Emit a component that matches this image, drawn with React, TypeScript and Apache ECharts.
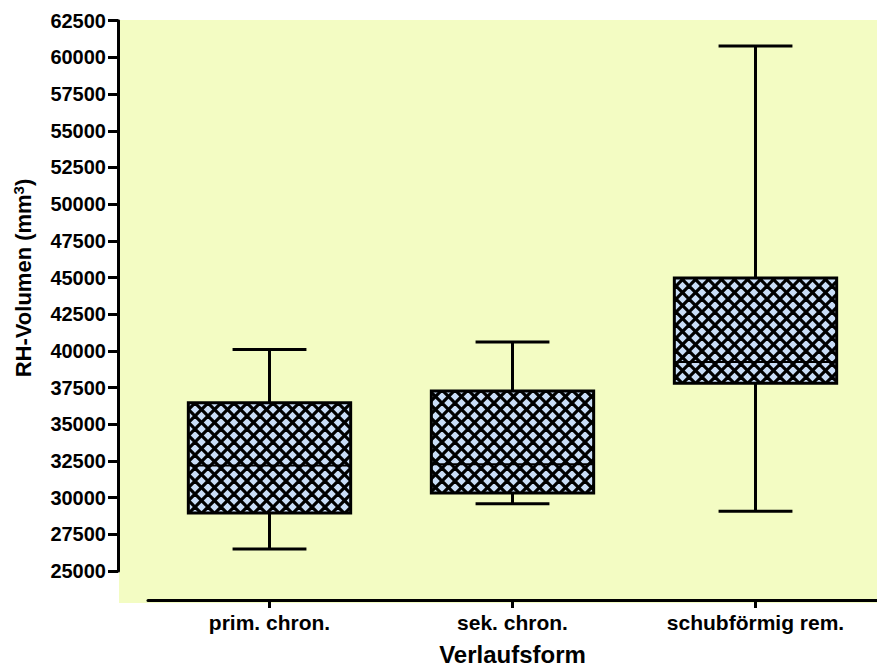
import React, { useEffect, useRef } from "react";
import * as echarts from "echarts";

const categories = ["prim. chron.", "sek. chron.", "schubförmig rem."];
const whiskerLow = [26500, 29590, 29070];
const quartile1 = [28950, 30310, 37800];
const medians = [32190, 32280, 39250];
const quartile3 = [36470, 37260, 44970];
const whiskerHigh = [40090, 40610, 60780];
const yMin = 25000;
const yMax = 62500;
const yStep = 2500;

const FONT = "Arial, 'Liberation Sans', Helvetica, sans-serif";

function makeHatch(): HTMLCanvasElement {
  const P = 13;
  const c = document.createElement("canvas");
  c.width = P;
  c.height = P;
  const ctx = c.getContext("2d")!;
  ctx.fillStyle = "#C9DDF7";
  ctx.fillRect(0, 0, P, P);
  ctx.strokeStyle = "#000";
  ctx.lineWidth = 3.2;
  const seg = (x1: number, y1: number, x2: number, y2: number) => {
    ctx.beginPath();
    ctx.moveTo(x1, y1);
    ctx.lineTo(x2, y2);
    ctx.stroke();
  };
  for (const o of [-P, 0, P]) {
    seg(-2 + o, -2, P + 2 + o, P + 2);
    seg(P + 2 + o, -2, -2 + o, P + 2);
  }
  return c;
}

export default function App() {
  const ref = useRef<HTMLDivElement>(null);
  useEffect(() => {
    document.body.style.margin = "0";
    const chart = echarts.init(ref.current!, null, { renderer: "svg" });
    const hatch = makeHatch();
    const data = categories.map((_, i) => [
      i,
      whiskerLow[i],
      quartile1[i],
      medians[i],
      quartile3[i],
      whiskerHigh[i],
    ]);
    chart.setOption({
      animation: false,
      backgroundColor: "#ffffff",
      grid: { left: 148, width: 741, top: 20.7, bottom: 97.7, containLabel: false },
      graphic: [
        {
          type: "rect",
          z: -100,
          silent: true,
          shape: { x: 119, y: 20, width: 758, height: 583 },
          style: { fill: "#F3FCC3" },
        },
        {
          type: "text",
          x: 23,
          y: 278,
          rotation: Math.PI / 2,
          silent: true,
          style: {
            text: "RH-Volumen (mm{sup|3})",
            font: `bold 22px ${FONT}`,
            fill: "#000",
            align: "center",
            verticalAlign: "middle",
            rich: {
              sup: {
                font: `bold 15px ${FONT}`,
                fill: "#000",
                padding: [0, 0, 10, 0],
              },
            },
          },
        },
      ],
      xAxis: {
        type: "category",
        data: categories,
        boundaryGap: true,
        offset: 29,
        name: "Verlaufsform",
        nameLocation: "middle",
        nameGap: 42,
        nameTextStyle: { fontFamily: FONT, fontWeight: "bold", fontSize: 24, color: "#000" },
        axisLine: { show: true, lineStyle: { color: "#000", width: 3 } },
        axisTick: { show: true, alignWithLabel: true, length: 8, lineStyle: { color: "#000", width: 3 } },
        axisLabel: { margin: 12, fontFamily: FONT, fontWeight: "bold", fontSize: 21, color: "#000" },
        splitLine: { show: false },
      },
      yAxis: {
        type: "value",
        min: yMin,
        max: yMax,
        interval: yStep,
        offset: 30,
        axisLine: { show: true, lineStyle: { color: "#000", width: 3 } },
        axisTick: { show: true, length: 10, lineStyle: { color: "#000", width: 3 } },
        axisLabel: {
          margin: 12,
          fontFamily: FONT,
          fontWeight: "bold",
          fontSize: 20,
          color: "#000",
          formatter: (v: number) => String(v),
        },
        splitLine: { show: false },
      },
      series: [
        {
          type: "custom",
          data,
          z: 5,
          renderItem: (params: any, api: any) => {
            const idx = api.value(0);
            const pLow = api.coord([idx, api.value(1)]);
            const pQ1 = api.coord([idx, api.value(2)]);
            const pMed = api.coord([idx, api.value(3)]);
            const pQ3 = api.coord([idx, api.value(4)]);
            const pHigh = api.coord([idx, api.value(5)]);
            const band = api.size([1, 0])[0];
            const boxHalf = band * 0.334;
            const capHalf = band * 0.152;
            const cx = pLow[0];
            const stroke = { stroke: "#000", lineWidth: 3 };
            return {
              type: "group",
              children: [
                { type: "line", shape: { x1: cx, y1: pQ1[1], x2: cx, y2: pLow[1] }, style: stroke },
                { type: "line", shape: { x1: cx, y1: pQ3[1], x2: cx, y2: pHigh[1] }, style: stroke },
                { type: "line", shape: { x1: cx - capHalf, y1: pLow[1], x2: cx + capHalf, y2: pLow[1] }, style: stroke },
                { type: "line", shape: { x1: cx - capHalf, y1: pHigh[1], x2: cx + capHalf, y2: pHigh[1] }, style: stroke },
                {
                  type: "rect",
                  shape: { x: cx - boxHalf, y: pQ3[1], width: boxHalf * 2, height: pQ1[1] - pQ3[1] },
                  style: { fill: { image: hatch, repeat: "repeat" }, stroke: "#000", lineWidth: 3 },
                },
                { type: "line", shape: { x1: cx - boxHalf, y1: pMed[1], x2: cx + boxHalf, y2: pMed[1] }, style: { stroke: "#000", lineWidth: 2 } },
              ],
            };
          },
        },
      ],
    });
    return () => chart.dispose();
  }, []);
  return <div ref={ref} style={{ position: "fixed", left: 0, top: 0, width: 877, height: 671 }} />;
}
